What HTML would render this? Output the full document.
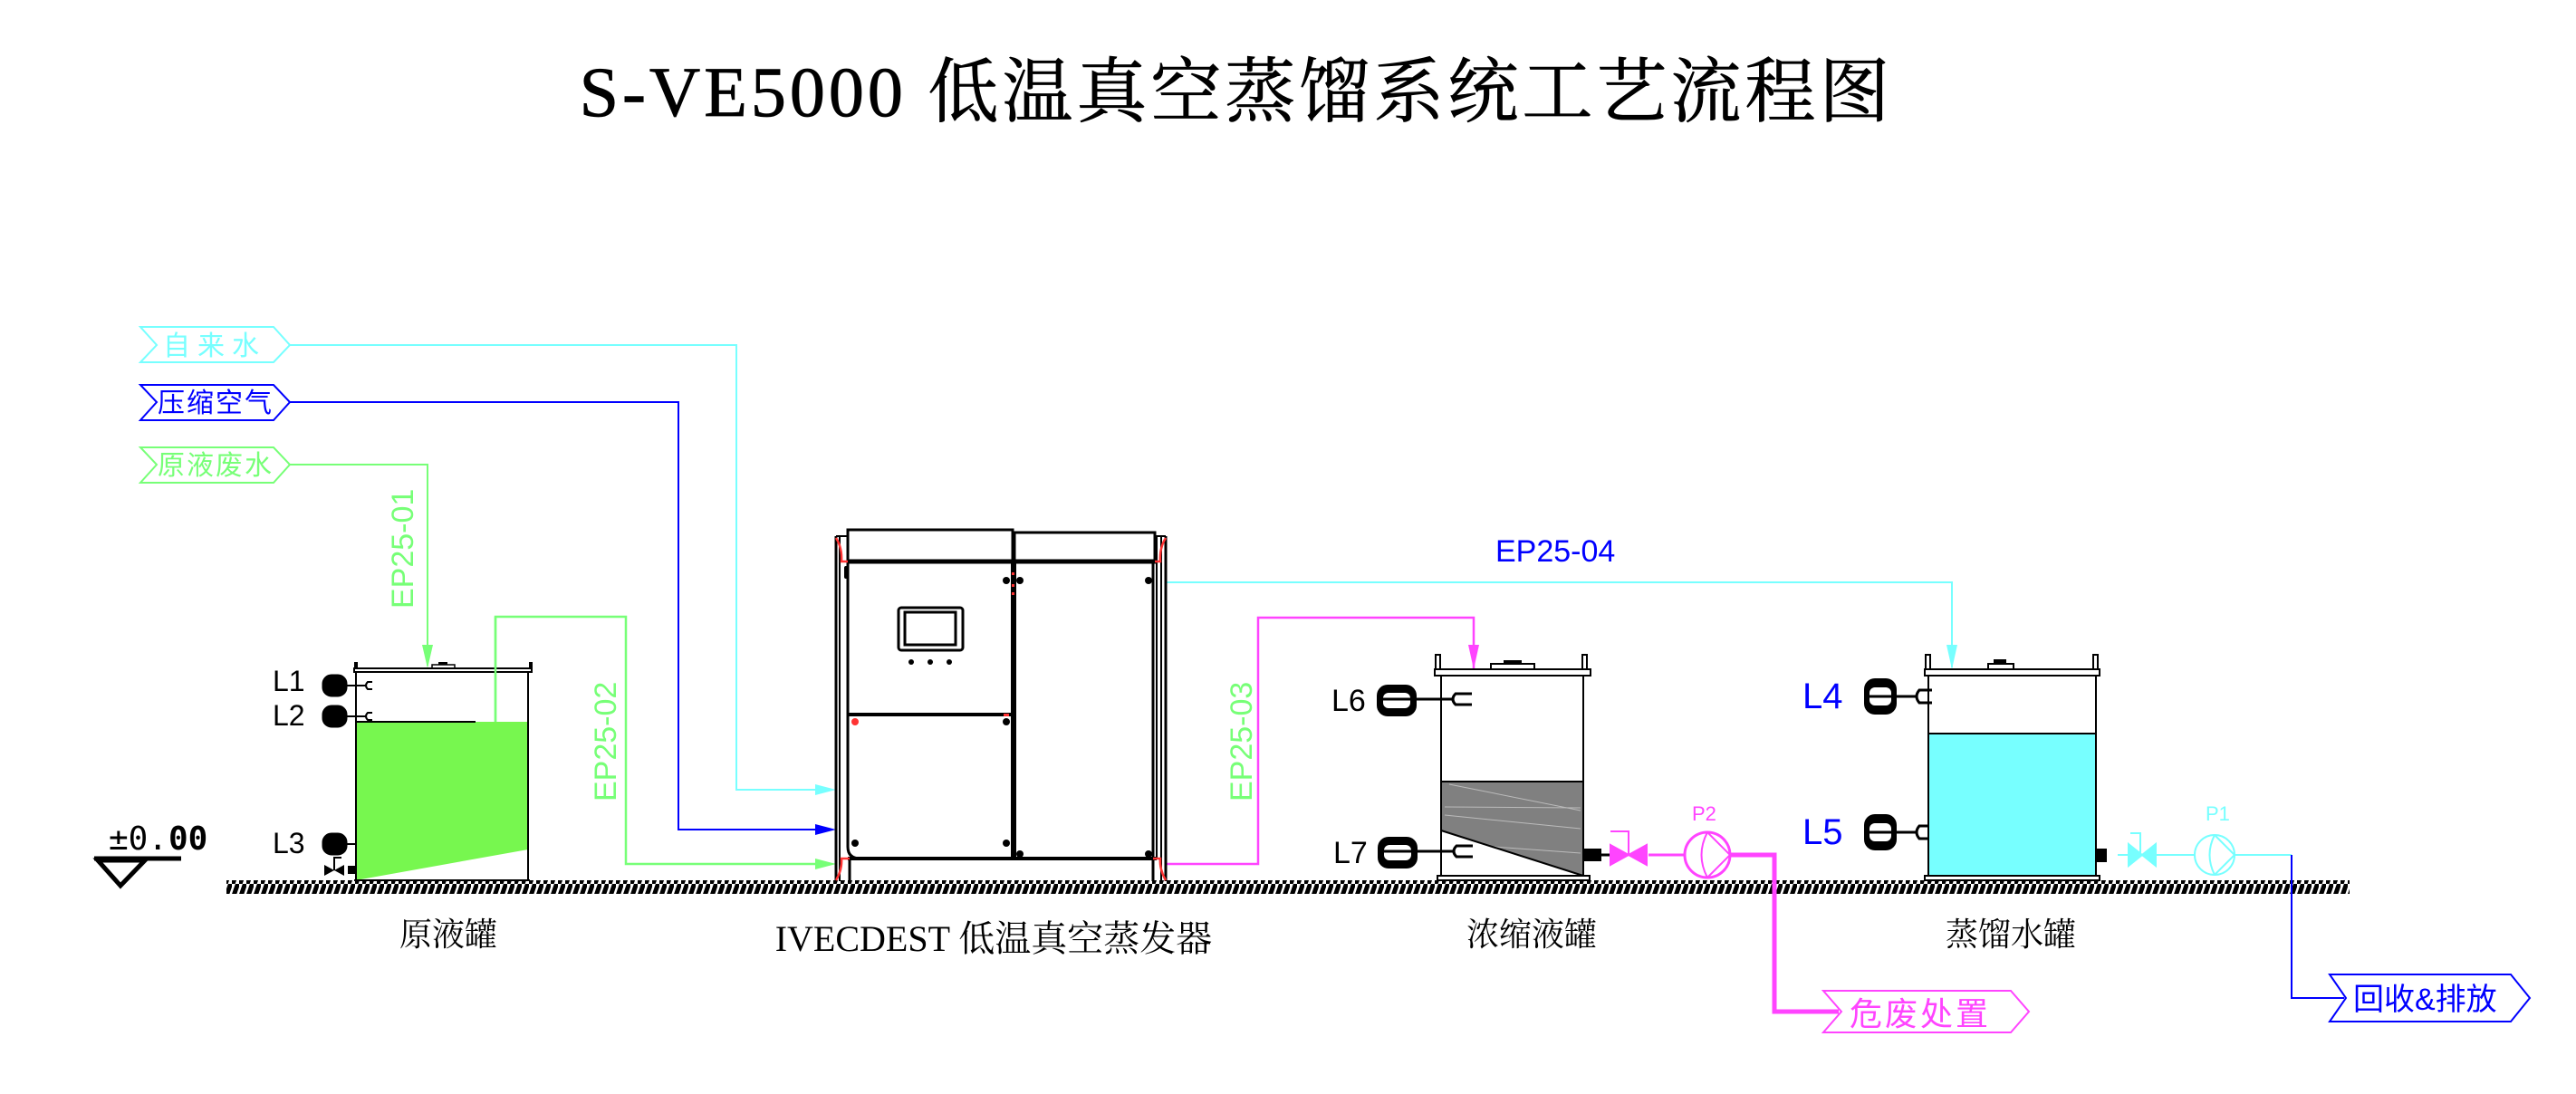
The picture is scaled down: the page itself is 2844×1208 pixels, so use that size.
<!DOCTYPE html>
<html><head><meta charset="utf-8"><style>
html,body{margin:0;padding:0;background:#fff;}
svg{display:block;}
</style></head><body>
<svg width="2844" height="1208" viewBox="0 0 2844 1208" xmlns="http://www.w3.org/2000/svg">
<defs>
<pattern id="hatch" x="0" y="0" width="8" height="16" patternUnits="userSpaceOnUse">
<line x1="1.5" y1="14.5" x2="6" y2="1.5" stroke="#000" stroke-width="5" stroke-linecap="round"/>
</pattern>
</defs>

<!-- Title -->
<text x="1365" y="128" text-anchor="middle" font-family="Liberation Serif, Noto Serif CJK SC, serif" font-size="78" letter-spacing="4" fill="#000" stroke="#000" stroke-width="0.8">S-VE5000 低温真空蒸馏系统工艺流程图</text>

<!-- Ground -->
<rect x="250" y="972" width="2344" height="15" fill="url(#hatch)"/>

<!-- Elevation mark -->
<text x="120" y="938" font-family="DejaVu Sans Mono, monospace" font-size="36" fill="#000">±0.</text>
<text x="186" y="938" font-family="DejaVu Sans Mono, monospace" font-size="36" font-weight="bold" fill="#000">00</text>
<line x1="104" y1="948" x2="200" y2="948" stroke="#000" stroke-width="5"/>
<path d="M108,950 L160,950 L133,978 Z" fill="none" stroke="#000" stroke-width="5"/>

<!-- Tags -->
<g font-family="Liberation Sans, Noto Sans CJK SC, sans-serif" font-size="30">
<path d="M155,361 L302,361 L320,381 L302,400 L155,400 L173,381 Z" fill="#fff" stroke="#7ff" stroke-width="2"/>
<text x="180" y="392" fill="#7ff" letter-spacing="8">自来水</text>
<path d="M155,425 L302,425 L320,444 L302,464 L155,464 L173,444 Z" fill="#fff" stroke="#00f" stroke-width="2"/>
<text x="174" y="455" fill="#00f" letter-spacing="2">压缩空气</text>
<path d="M155,494 L302,494 L320,513 L302,533 L155,533 L173,513 Z" fill="#fff" stroke="#7f7" stroke-width="2"/>
<text x="174" y="524" fill="#7f7" letter-spacing="2">原液废水</text>
<path d="M2013,1094 L2220,1094 L2240,1117 L2220,1140 L2013,1140 L2033,1117 Z" fill="#fff" stroke="#f4f" stroke-width="2"/>
<text x="2042" y="1132" fill="#f4f" font-size="36" letter-spacing="3">危废处置</text>
<path d="M2572,1076 L2772,1076 L2793,1102 L2772,1128 L2572,1128 L2590,1102 Z" fill="#fff" stroke="#00f" stroke-width="2"/>
<text x="2598" y="1115" fill="#00f" font-size="34">回收&amp;排放</text>
</g>

<!-- Pipes -->
<polyline points="320,381 813,381 813,872 905,872" fill="none" stroke="#7ff" stroke-width="2"/>
<path d="M900,866 L923,872 L900,878 Z" fill="#7ff"/>
<polyline points="320,444 749,444 749,916 905,916" fill="none" stroke="#00f" stroke-width="2"/>
<path d="M900,910 L923,916 L900,922 Z" fill="#00f"/>
<polyline points="320,513 472,513 472,735" fill="none" stroke="#7f7" stroke-width="2"/>
<path d="M466,712 L472,738 L478,712 Z" fill="#7f7"/>
<polyline points="547,797 547,681 691,681 691,954 905,954" fill="none" stroke="#7f7" stroke-width="2.5"/>
<path d="M900,948 L923,954 L900,960 Z" fill="#7f7"/>
<polyline points="1288,643 2155,643 2155,737" fill="none" stroke="#7ff" stroke-width="2"/>
<path d="M2149,712 L2155,739 L2161,712 Z" fill="#7ff"/>
<polyline points="1288,954 1389,954 1389,682 1627,682 1627,740" fill="none" stroke="#f4f" stroke-width="2.5"/>
<path d="M1621,712 L1627,739 L1633,712 Z" fill="#f4f"/>
<line x1="1768" y1="944" x2="1780" y2="944" stroke="#000" stroke-width="3"/>
<polyline points="1820,944 1859,944" fill="none" stroke="#f4f" stroke-width="3"/>
<polyline points="1911,944 1959,944 1959,1117 2030,1117" fill="none" stroke="#f4f" stroke-width="5"/>
<polyline points="2338,944 2350,944" fill="none" stroke="#7ff" stroke-width="2"/>
<polyline points="2381,944 2423,944" fill="none" stroke="#7ff" stroke-width="2"/>
<polyline points="2467,944 2530,944" fill="none" stroke="#7ff" stroke-width="2"/>
<polyline points="2530,944 2530,1102 2588,1102" fill="none" stroke="#00f" stroke-width="2"/>

<!-- Pipe labels -->
<g font-family="Liberation Sans, sans-serif" font-size="34">
<text transform="translate(456,672) rotate(-90)" fill="#7f7">EP25-01</text>
<text transform="translate(680,885) rotate(-90)" fill="#7f7">EP25-02</text>
<text transform="translate(1382,885) rotate(-90)" fill="#7f7">EP25-03</text>
<text x="1651" y="620" fill="#00f">EP25-04</text>
</g>

<!-- Tank 1 -->
<rect x="391" y="731" width="4" height="10" fill="#000"/>
<rect x="584" y="731" width="4" height="10" fill="#000"/>
<rect x="477" y="734" width="25" height="4" fill="none" stroke="#000" stroke-width="1.5"/>
<rect x="484" y="731" width="10" height="3" fill="#000"/>
<rect x="391" y="738" width="196" height="4" fill="#fff" stroke="#000" stroke-width="2"/>
<polygon points="393,797 583,797 583,938 393,972" fill="#77f74f"/>
<line x1="547" y1="797" x2="547" y2="681" stroke="#7f7" stroke-width="2.5"/>
<line x1="393" y1="742" x2="393" y2="972" stroke="#000" stroke-width="2"/>
<line x1="583" y1="742" x2="583" y2="972" stroke="#000" stroke-width="2"/>
<line x1="393" y1="797" x2="525" y2="797" stroke="#000" stroke-width="2"/>
<line x1="391" y1="972" x2="585" y2="972" stroke="#000" stroke-width="2"/>

<g font-family="Liberation Sans, sans-serif" font-size="32" fill="#000">
<text x="301" y="763">L1</text><text x="301" y="801">L2</text><text x="301" y="942">L3</text>
</g>
<g fill="#000" stroke="#000">
<rect x="356" y="745" width="27" height="24" rx="10"/><line x1="383" y1="757" x2="404" y2="757" stroke-width="2"/>
<path d="M411,753 L406,753 Q402,757 406,761 L411,761" fill="none" stroke-width="2"/>
<rect x="356" y="779" width="27" height="24" rx="10"/><line x1="383" y1="791" x2="404" y2="791" stroke-width="2"/>
<path d="M411,787 L406,787 Q402,791 406,795 L411,795" fill="none" stroke-width="2"/>
<rect x="356" y="920" width="27" height="24" rx="10"/><line x1="383" y1="932" x2="393" y2="932" stroke-width="2"/>
</g>
<path d="M358,955 L380,967 L380,955 L358,967 Z" fill="#000"/>
<polyline points="369,961 369,947 377,947" fill="none" stroke="#000" stroke-width="2"/>
<rect x="384" y="956" width="8" height="9" fill="#000"/>

<!-- Evaporator -->
<g stroke="#000" fill="none">
<line x1="923" y1="592" x2="923" y2="973" stroke-width="3"/>
<line x1="927" y1="592" x2="927" y2="973" stroke-width="2"/>
<line x1="923" y1="592" x2="936" y2="592" stroke-width="2"/>
<line x1="1287" y1="592" x2="1287" y2="973" stroke-width="3"/>
<line x1="1282" y1="592" x2="1282" y2="973" stroke-width="2"/>
<line x1="1277" y1="592" x2="1277" y2="948" stroke-width="2"/>
<line x1="1275" y1="592" x2="1287" y2="592" stroke-width="2"/>
<rect x="936" y="585" width="182" height="35" stroke-width="3"/>
<rect x="1120" y="588" width="155" height="32" stroke-width="3"/>
<line x1="936" y1="620" x2="1277" y2="620" stroke-width="5"/>
<line x1="936" y1="948" x2="1277" y2="948" stroke-width="4"/>
<line x1="936" y1="620" x2="936" y2="935" stroke-width="3"/>
<path d="M936,935 Q936,948 950,948" stroke-width="3"/>
<line x1="1118" y1="620" x2="1118" y2="948" stroke-width="4"/>
<line x1="1121" y1="620" x2="1121" y2="948" stroke-width="2"/>
<line x1="1273" y1="620" x2="1273" y2="948" stroke-width="3"/>
<line x1="936" y1="789" x2="1118" y2="789" stroke-width="4"/>
<line x1="938" y1="948" x2="938" y2="973" stroke-width="3"/>
<line x1="1273" y1="948" x2="1273" y2="973" stroke-width="3"/>
<rect x="992" y="671" width="71" height="47" rx="3" stroke-width="3"/>
<rect x="999" y="676" width="56" height="36" stroke-width="3"/>
</g>
<g fill="#000">
<circle cx="1006" cy="731" r="3"/><circle cx="1027" cy="731" r="3"/><circle cx="1048" cy="731" r="3"/>
<circle cx="1111" cy="641" r="4"/><circle cx="1126" cy="641" r="4"/><circle cx="1268" cy="641" r="4"/>
<circle cx="1111" cy="797" r="4"/><circle cx="944" cy="931" r="4"/><circle cx="1111" cy="931" r="4"/>
<circle cx="1126" cy="943" r="4"/><circle cx="1268" cy="943" r="4"/>
<rect x="932" y="625" width="4" height="14" rx="2"/>
</g>
<g fill="none" stroke="#f33" stroke-width="2.5">
<path d="M923,594 Q930,605 929,620 L936,620"/><path d="M1287,594 Q1280,605 1281,620 L1275,620"/>
<path d="M923,972 Q930,960 929,948 L938,948"/><path d="M1287,972 Q1280,960 1281,948 L1273,948"/>
</g>
<circle cx="944" cy="797" r="4" fill="#f33"/>
<g fill="#f33"><rect x="1117" y="632" width="3" height="3"/><rect x="1117" y="645" width="3" height="3"/><rect x="1117" y="654" width="3" height="3"/><rect x="1108" y="788" width="6" height="3"/></g>

<!-- Tank 2 -->
<rect x="1585" y="723" width="5" height="16" fill="none" stroke="#000" stroke-width="2"/>
<rect x="1747" y="723" width="5" height="16" fill="none" stroke="#000" stroke-width="2"/>
<rect x="1646" y="733" width="48" height="6" fill="none" stroke="#000" stroke-width="2"/>
<rect x="1660" y="729" width="20" height="4" fill="#000"/>
<rect x="1584" y="739" width="172" height="7" fill="#fff" stroke="#000" stroke-width="2"/>
<polygon points="1591,863 1748,863 1748,967 1591,917" fill="#808080"/>
<g stroke="#bbb" stroke-width="1"><line x1="1600" y1="866" x2="1745" y2="895"/><line x1="1595" y1="891" x2="1745" y2="892"/><line x1="1595" y1="900" x2="1745" y2="915"/><line x1="1650" y1="935" x2="1745" y2="942"/></g>
<g stroke="#000" stroke-width="2" fill="none">
<line x1="1591" y1="746" x2="1591" y2="967"/><line x1="1748" y1="746" x2="1748" y2="967"/>
<line x1="1591" y1="863" x2="1748" y2="863"/><line x1="1591" y1="917" x2="1748" y2="967"/>
<rect x="1587" y="967" width="168" height="5"/>
</g>
<rect x="1749" y="937" width="19" height="14" fill="#000"/>

<!-- Big gauges -->
<g font-family="Liberation Sans, sans-serif" font-size="34">
<text x="1470" y="785" fill="#000">L6</text>
<text x="1472" y="953" fill="#000">L7</text>
<text x="1990" y="782" fill="#00f" font-size="40">L4</text>
<text x="1990" y="932" fill="#00f" font-size="40">L5</text>
</g>
<g>
<rect x="1520" y="756" width="44" height="35" rx="12" fill="#000"/><rect x="1527" y="765" width="30" height="17" rx="6" fill="#fff"/>
<line x1="1527" y1="772" x2="1605" y2="772" stroke="#000" stroke-width="3"/>
<path d="M1625,766 L1607,766 Q1601,772 1607,778 L1625,778" fill="none" stroke="#000" stroke-width="3"/>
<rect x="1521" y="924" width="44" height="35" rx="12" fill="#000"/><rect x="1528" y="933" width="30" height="17" rx="6" fill="#fff"/>
<line x1="1528" y1="940" x2="1606" y2="940" stroke="#000" stroke-width="3"/>
<path d="M1626,934 L1608,934 Q1602,940 1608,946 L1626,946" fill="none" stroke="#000" stroke-width="3"/>
<rect x="2058" y="749" width="36" height="40" rx="12" fill="#000"/><rect x="2064" y="759" width="24" height="20" rx="6" fill="#fff"/>
<line x1="2064" y1="769" x2="2116" y2="769" stroke="#000" stroke-width="3"/>
<path d="M2133,762 L2119,762 Q2113,769 2119,776 L2133,776" fill="none" stroke="#000" stroke-width="3"/>
<rect x="2058" y="899" width="36" height="40" rx="12" fill="#000"/><rect x="2064" y="909" width="24" height="20" rx="6" fill="#fff"/>
<line x1="2064" y1="919" x2="2116" y2="919" stroke="#000" stroke-width="3"/>
<path d="M2133,912 L2119,912 Q2113,919 2119,926 L2133,926" fill="none" stroke="#000" stroke-width="3"/>
</g>

<!-- Valve & pump P2 -->
<path d="M1778,933 L1818,955 L1818,933 L1778,955 Z" fill="#f4f" stroke="#f4f" stroke-width="2"/>
<polyline points="1778,918 1798,918 1798,944" fill="none" stroke="#f4f" stroke-width="2"/>
<circle cx="1885" cy="944" r="25" fill="none" stroke="#f4f" stroke-width="3"/>
<polyline points="1885,919 1910,944 1885,969" fill="none" stroke="#f4f" stroke-width="2"/>
<path d="M1885,919 Q1872,944 1885,969" fill="none" stroke="#f4f" stroke-width="2"/>
<text x="1868" y="906" font-family="Liberation Sans, sans-serif" font-size="22" fill="#f4f">P2</text>

<!-- Tank 3 -->
<rect x="2126" y="723" width="5" height="16" fill="none" stroke="#000" stroke-width="2"/>
<rect x="2311" y="723" width="5" height="16" fill="none" stroke="#000" stroke-width="2"/>
<rect x="2195" y="733" width="28" height="6" fill="none" stroke="#000" stroke-width="2"/>
<rect x="2201" y="728" width="14" height="5" fill="#000"/>
<rect x="2125" y="739" width="193" height="7" fill="#fff" stroke="#000" stroke-width="2"/>
<rect x="2129" y="810" width="185" height="157" fill="#7ff"/>
<g stroke="#000" stroke-width="2" fill="none">
<line x1="2129" y1="746" x2="2129" y2="967"/><line x1="2314" y1="746" x2="2314" y2="967"/>
<line x1="2129" y1="810" x2="2314" y2="810"/>
<rect x="2125" y="967" width="193" height="5"/>
</g>
<rect x="2315" y="937" width="11" height="15" fill="#000"/>
<path d="M2350,932 L2380,956 L2380,932 L2350,956 Z" fill="#7ff" stroke="#7ff" stroke-width="2"/>
<polyline points="2352,920 2363,920 2363,944" fill="none" stroke="#7ff" stroke-width="2"/>
<circle cx="2445" cy="944" r="22" fill="none" stroke="#7ff" stroke-width="2"/>
<polyline points="2445,922 2467,944 2445,966" fill="none" stroke="#7ff" stroke-width="2"/>
<path d="M2445,922 Q2434,944 2445,966" fill="none" stroke="#7ff" stroke-width="2"/>
<text x="2435" y="906" font-family="Liberation Sans, sans-serif" font-size="22" fill="#7ff">P1</text>

<!-- Equipment labels -->
<g font-family="Liberation Serif, Noto Serif CJK SC, serif" font-size="36" fill="#000" text-anchor="middle">
<text x="495" y="1044">原液罐</text>
<text x="1097" y="1050" font-size="40">IVECDEST 低温真空蒸发器</text>
<text x="1691" y="1044">浓缩液罐</text>
<text x="2220" y="1044">蒸馏水罐</text>
</g>
</svg>
</body></html>
